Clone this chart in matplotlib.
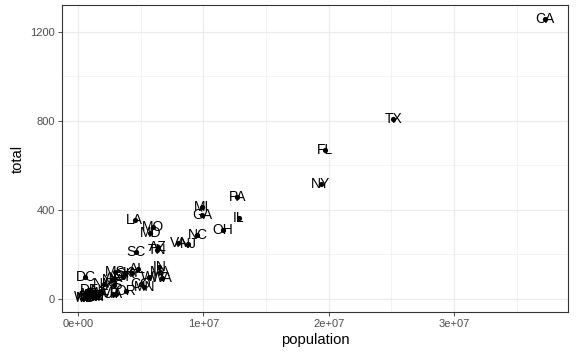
import matplotlib
matplotlib.use("Agg")
import matplotlib.pyplot as plt
from matplotlib.ticker import MultipleLocator, FuncFormatter

plt.rcParams["font.family"] = ["Liberation Sans", "DejaVu Sans"]

# murders data: state abbreviation, population, total murders
abb = ["AL", "AK", "AZ", "AR", "CA", "CO", "CT", "DE", "DC", "FL", "GA", "HI", "ID",
       "IL", "IN", "IA", "KS", "KY", "LA", "ME", "MD", "MA", "MI", "MN", "MS", "MO",
       "MT", "NE", "NV", "NH", "NJ", "NM", "NY", "NC", "ND", "OH", "OK", "OR", "PA",
       "RI", "SC", "SD", "TN", "TX", "UT", "VT", "VA", "WA", "WV", "WI", "WY"]
population = [4779736, 710231, 6392017, 2915918, 37253956, 5029196, 3574097, 897934,
              601723, 19687653, 9920000, 1360301, 1567582, 12830632, 6483802, 3046355,
              2853118, 4339367, 4533372, 1328361, 5773552, 6547629, 9883640, 5303925,
              2967297, 5988927, 989415, 1826341, 2700551, 1316470, 8791894, 2059179,
              19378102, 9535483, 672591, 11536504, 3751351, 3831074, 12702379, 1052567,
              4625364, 814180, 6346105, 25145561, 2763885, 625741, 8001024, 6724540,
              1852994, 5686986, 563626]
total = [135, 19, 232, 93, 1257, 65, 97, 38, 99, 669, 376, 7, 12, 364, 142, 21, 63, 116,
         351, 11, 293, 118, 413, 53, 120, 321, 12, 32, 84, 5, 246, 67, 517, 286, 4, 310,
         111, 36, 457, 16, 207, 8, 219, 805, 22, 2, 250, 93, 27, 97, 5]

fig = plt.figure(figsize=(5.76, 3.55), dpi=100)
ax = fig.add_axes([0.1076, 0.121, 0.986 - 0.1076, 0.986 - 0.121])

ax.scatter(population, total, s=14, color="black", zorder=3, linewidths=0)
for a, x, y in zip(abb, population, total):
    ax.text(x, y, a, ha="center", va="center", fontsize=10, color="black", zorder=4)

# ggplot-style 5% expansion
xr = max(population) - min(population)
yr = max(total) - min(total)
ax.set_xlim(min(population) - 0.05 * xr, max(population) + 0.05 * xr)
ax.set_ylim(min(total) - 0.05 * yr, max(total) + 0.05 * yr)

ax.xaxis.set_major_locator(MultipleLocator(1e7))
ax.xaxis.set_minor_locator(MultipleLocator(5e6))
ax.yaxis.set_major_locator(MultipleLocator(400))
ax.yaxis.set_minor_locator(MultipleLocator(200))
ax.xaxis.set_major_formatter(FuncFormatter(lambda v, p: "0e+00" if v == 0 else f"{v/1e7:.0f}e+07"))

ax.grid(which="major", color="#EBEBEB", linewidth=0.8, zorder=0)
ax.grid(which="minor", color="#EBEBEB", linewidth=0.4, zorder=0)
ax.set_axisbelow(True)

for s in ax.spines.values():
    s.set_color("#333333")
    s.set_linewidth(0.8)

ax.tick_params(which="major", length=3, width=0.6, color="#333333",
               labelsize=8, labelcolor="#4D4D4D", pad=2)
ax.tick_params(which="minor", length=0)

ax.set_xlabel("population", fontsize=10.6, labelpad=3)
ax.set_ylabel("total", fontsize=10.6, labelpad=4)

fig.savefig("out.png", dpi=100)
